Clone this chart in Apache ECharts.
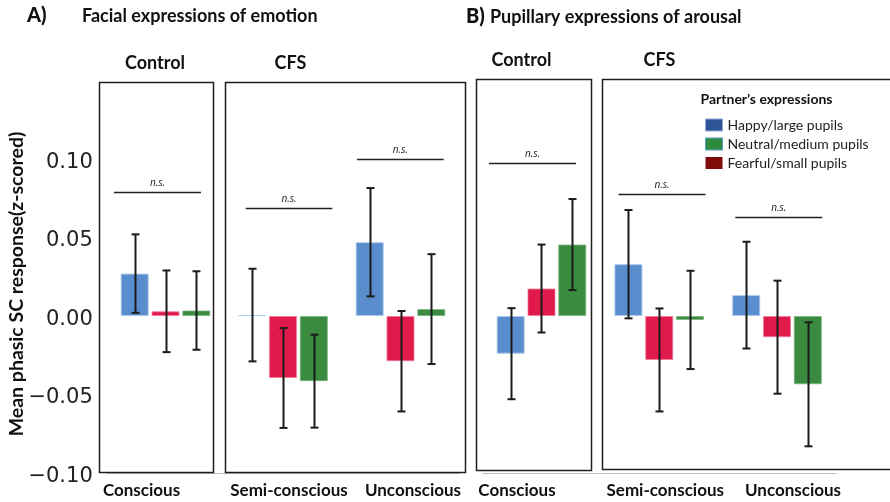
<!DOCTYPE html>
<html>
<head>
<meta charset="utf-8">
<script src="https://cdn.jsdelivr.net/npm/echarts@6/dist/echarts.min.js"></script>
<style>html,body{margin:0;padding:0;background:#fff}#c{width:890px;height:502px}</style>
</head>
<body>
<div id="c"></div>
<script>
// ---- data ----
const categories = ['Conscious', 'Semi-conscious', 'Unconscious'];
const yTicks = [-0.10, -0.05, 0.00, 0.05, 0.10];

// Panel A: facial expressions of emotion
const happyA = [0.027, 0.0006, 0.047];
const happyErrA = [0.025, 0.0295, 0.0345];
const fearA = [0.003, -0.0395, -0.0288];
const fearErrA = [0.026, 0.0318, 0.032];
const neutralA = [0.0035, -0.0415, 0.0044];
const neutralErrA = [0.025, 0.0296, 0.035];
const sigA = [0.0792, 0.0688, 0.0998];

// Panel B: pupillary expressions of arousal
const happyB = [-0.024, 0.033, 0.0133];
const happyErrB = [0.029, 0.0345, 0.034];
const fearB = [0.0175, -0.028, -0.0135];
const fearErrB = [0.028, 0.0328, 0.036];
const neutralB = [0.0455, -0.0025, -0.0435];
const neutralErrB = [0.029, 0.0313, 0.0395];
const sigB = [0.0973, 0.0777, 0.0632];

const seriesNames = ['Happy/large pupils', 'Fearful/small pupils', 'Neutral/medium pupils'];

// ---- layout / style ----
const BAR_W = 28, BAR_GAP = '10%';
const STEP = BAR_W * 1.1;
const colors = ['#5A8DCD', '#E01A4A', '#3A8A40'];
const borders = ['rgba(170,200,235,0.9)', 'rgba(240,120,150,0.8)', 'rgba(120,180,125,0.8)'];
const sigShiftA = [[-51.5, 35.5], [-37.3, 49.3], [-43.5, 43.2]];
const sigShiftB = [[-52.5, 34.5], [-40.7, 46.3], [-41.7, 45.3]];
const labelShiftA = [-24, 6, 12.5];
const labelShiftB = [-24.5, 6, 16];
const boldFont = 'Lato';

function richFor(shifts) {
  const r = {};
  shifts.forEach((s, i) => {
    r['s' + i] = {
      fontFamily: boldFont, fontWeight: 'bold', fontSize: 17, color: '#111',
      padding: s < 0 ? [0, -2 * s, 0, 0] : [0, 0, 0, 2 * s]
    };
  });
  return r;
}

function xAxisFor(gridIndex, shifts) {
  return {
    type: 'category', gridIndex: gridIndex, data: categories,
    axisTick: { show: false },
    axisLine: { show: true, onZero: false, lineStyle: { color: '#bdbdbd', width: 1 } },
    axisLabel: {
      interval: 0, margin: 9,
      formatter: (v, i) => '{s' + i + '|' + v + '}',
      rich: richFor(shifts)
    }
  };
}

function yAxisFor(gridIndex, showLabels) {
  return {
    type: 'value', gridIndex: gridIndex, min: yTicks[0], max: yTicks[yTicks.length - 1],
    interval: 0.05,
    axisLine: { show: false }, axisTick: { show: false }, splitLine: { show: false },
    axisLabel: {
      show: showLabels, margin: 14,
      formatter: v => '{t|' + v.toFixed(2).replace('-', '\u2212') + '}',
      rich: { t: { fontFamily: 'DejaVu Sans', fontSize: 21, color: '#222', padding: [7, 0, 0, 0] } }
    }
  };
}

function barSeries(name, data, idx, gi) {
  return {
    type: 'bar', name: name, xAxisIndex: gi, yAxisIndex: gi, data: data,
    barWidth: BAR_W, barGap: BAR_GAP,
    itemStyle: { color: colors[idx], borderColor: borders[idx], borderWidth: 1 },
    z: 2
  };
}

function errSeries(name, means, errs, idx, gi) {
  const off = (idx - 1) * STEP;
  return {
    type: 'custom', name: name, xAxisIndex: gi, yAxisIndex: gi, z: 4,
    data: means.map((m, i) => [i, m, errs[i]]),
    renderItem: (params, api) => {
      const c = api.value(0), m = api.value(1), e = api.value(2);
      const top = api.coord([c, m + e]);
      const bot = api.coord([c, m - e]);
      const x = Math.round(top[0] + off) + 0.5;
      const st = { stroke: '#1b1b1b', lineWidth: 2 };
      const cap = 4;
      return {
        type: 'group', children: [
          { type: 'line', shape: { x1: x, y1: top[1], x2: x, y2: bot[1] }, style: st },
          { type: 'line', shape: { x1: x - cap, y1: top[1], x2: x + cap, y2: top[1] }, style: st },
          { type: 'line', shape: { x1: x - cap, y1: bot[1], x2: x + cap, y2: bot[1] }, style: st }
        ]
      };
    }
  };
}

function sigSeries(sig, shifts, gi) {
  return {
    type: 'custom', xAxisIndex: gi, yAxisIndex: gi, z: 4, silent: true,
    data: sig.map((v, i) => [i, v]),
    renderItem: (params, api) => {
      const i = api.value(0);
      const p = api.coord([i, api.value(1)]);
      const s = shifts[i];
      const y = Math.round(p[1]) + 0.5;
      return {
        type: 'group', children: [
          { type: 'line', shape: { x1: p[0] + s[0], y1: y, x2: p[0] + s[1], y2: y },
            style: { stroke: '#222', lineWidth: 1.3 } },
          { type: 'text', x: p[0] + (s[0] + s[1]) / 2, y: y - 9,
            style: { text: 'n.s.', fontFamily: 'Open Sans', fontStyle: 'italic', fontSize: 10,
                     fill: '#222', align: 'center', verticalAlign: 'middle' } }
        ]
      };
    }
  };
}

function boxRect(x1, y1, x2, y2) {
  return { type: 'rect', silent: true, z: 1,
    shape: { x: x1, y: y1, width: x2 - x1, height: y2 - y1 },
    style: { fill: 'none', stroke: '#1e1e1e', lineWidth: 1.5 } };
}
function txt(x, y, text, size, opts) {
  return { type: 'text', x: x, y: y, z: 5, silent: true,
    style: Object.assign({ text: text, fontFamily: boldFont, fontWeight: 'bold', fontSize: size,
      fill: '#111', align: 'left', verticalAlign: 'middle' }, opts || {}) };
}

const chart = echarts.init(document.getElementById('c'), null, { renderer: 'canvas' });
chart.setOption({
  backgroundColor: '#fff',
  animation: false,
  grid: [
    { left: 106.75, width: 352.5, top: 159, height: 314 },
    { left: 482.6, width: 353.3, top: 159, height: 314 }
  ],
  xAxis: [xAxisFor(0, labelShiftA), xAxisFor(1, labelShiftB)],
  yAxis: [yAxisFor(0, true), yAxisFor(1, false)],
  legend: {
    orient: 'vertical', left: 700, top: 113,
    itemWidth: 17, itemHeight: 12, itemGap: 5, icon: 'rect',
    textStyle: { fontFamily: boldFont, fontSize: 14, color: '#222' },
    data: [
      { name: 'Happy/large pupils', itemStyle: { color: '#2F5597', borderColor: '#8FAADC', borderWidth: 1 } },
      { name: 'Neutral/medium pupils', itemStyle: { color: '#2E8B3E', borderColor: '#5B9BD5', borderWidth: 1 } },
      { name: 'Fearful/small pupils', itemStyle: { color: '#7F0A0A', borderWidth: 0 } }
    ]
  },
  series: [
    barSeries(seriesNames[0], happyA, 0, 0),
    barSeries(seriesNames[1], fearA, 1, 0),
    barSeries(seriesNames[2], neutralA, 2, 0),
    barSeries(seriesNames[0], happyB, 0, 1),
    barSeries(seriesNames[1], fearB, 1, 1),
    barSeries(seriesNames[2], neutralB, 2, 1),
    errSeries(seriesNames[0], happyA, happyErrA, 0, 0),
    errSeries(seriesNames[1], fearA, fearErrA, 1, 0),
    errSeries(seriesNames[2], neutralA, neutralErrA, 2, 0),
    errSeries(seriesNames[0], happyB, happyErrB, 0, 1),
    errSeries(seriesNames[1], fearB, fearErrB, 1, 1),
    errSeries(seriesNames[2], neutralB, neutralErrB, 2, 1),
    sigSeries(sigA, sigShiftA, 0),
    sigSeries(sigB, sigShiftB, 1)
  ],
  graphic: [
    boxRect(99.5, 82.5, 213.5, 472.5),
    boxRect(225.5, 82.5, 465.5, 472.5),
    boxRect(476.5, 79.5, 591.5, 470.5),
    boxRect(602.5, 79.5, 895, 469.5),
    txt(27, 16, 'A)', 20, { fontWeight: 900 }),
    txt(82, 16, 'Facial expressions of emotion', 18),
    txt(466, 17, 'B)', 20, { fontWeight: 900 }),
    txt(490, 17, 'Pupillary expressions of arousal', 18),
    txt(155, 63, 'Control', 18, { align: 'center' }),
    txt(290.5, 63, 'CFS', 18, { align: 'center' }),
    txt(521.5, 60, 'Control', 18, { align: 'center' }),
    txt(659.5, 60, 'CFS', 18, { align: 'center' }),
    txt(700.5, 99, 'Partner\u2019s expressions', 14),
    { type: 'text', x: 17, y: 284, rotation: Math.PI / 2, z: 5, silent: true,
      style: { text: 'Mean phasic SC response(z-scored)', fontFamily: boldFont, fontWeight: 'bold',
               fontSize: 19.5, fill: '#111', align: 'center', verticalAlign: 'middle' } }
  ]
});
</script>
</body>
</html>
